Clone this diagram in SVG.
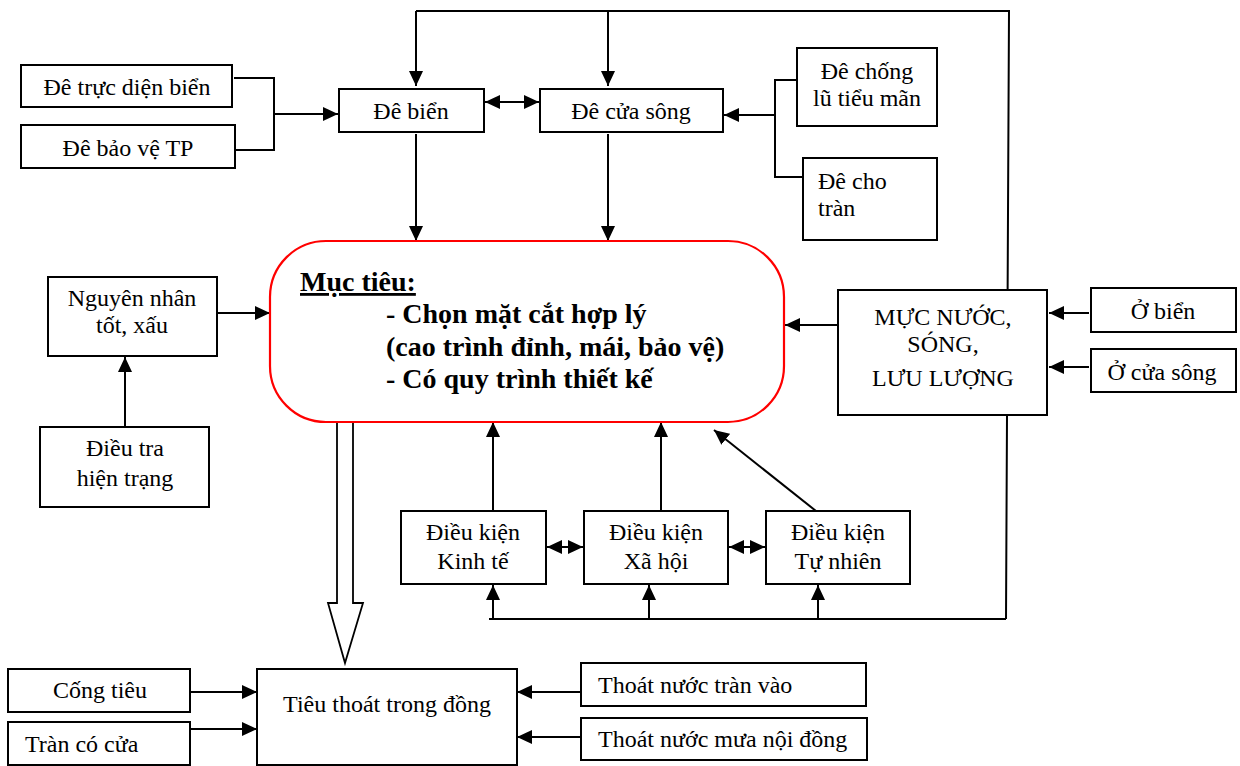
<svg xmlns="http://www.w3.org/2000/svg" width="1240" height="766" viewBox="0 0 1240 766">
<style>
.box{fill:#fff;stroke:#000;stroke-width:2}
.goal{fill:#fff;stroke:#ff0000;stroke-width:2.2}
.ln{fill:none;stroke:#000;stroke-width:2}
.arr{fill:none;stroke:#000;stroke-width:2;marker-end:url(#ah)}
.dbl{fill:none;stroke:#000;stroke-width:2;marker-end:url(#ah);marker-start:url(#ah)}
text{font-family:"Liberation Serif","Times New Roman",serif;font-size:24px;fill:#000}
.c{text-anchor:middle}
.b{font-weight:bold;font-size:28px}
</style>
<defs>
<marker id="ah" markerUnits="userSpaceOnUse" markerWidth="16" markerHeight="14" viewBox="0 0 16 14" refX="15" refY="7" orient="auto-start-reverse">
<path d="M0,0 L15,7 L0,14 z" fill="#000"/>
</marker>
</defs>
<rect width="1240" height="766" fill="#fff"/>
<g id="connectors">
<path class="ln" d="M1006,619 L1009,11 L416,11"/>
<path class="arr" d="M416,11 L416,86"/>
<path class="arr" d="M608,11 L608,86"/>
<path class="ln" d="M234,78 L274,78 L274,150 L236,150"/>
<path class="arr" d="M274,114 L338,114"/>
<path class="dbl" d="M485,102 L539,102"/>
<path class="ln" d="M797,80 L775,80 L775,177 L803,177"/>
<path class="arr" d="M775,115 L724,115"/>
<path class="arr" d="M416,134 L416,241"/>
<path class="arr" d="M608,134 L608,241"/>
<path class="arr" d="M217,313 L270,313"/>
<path class="arr" d="M125,427 L125,357"/>
<path class="arr" d="M838,325 L785,325"/>
<path class="arr" d="M1089,313 L1049,313"/>
<path class="arr" d="M1089,367 L1049,367"/>
<path class="arr" d="M493,511 L493,422"/>
<path class="arr" d="M661,511 L661,422"/>
<path class="arr" d="M816,511 L714,430"/>
<path class="dbl" d="M547,547 L583,547"/>
<path class="dbl" d="M729,547 L765,547"/>
<path class="ln" d="M489,619 L1006,619"/>
<path class="arr" d="M493,619 L493,585"/>
<path class="arr" d="M649,619 L649,585"/>
<path class="arr" d="M818,619 L818,585"/>
<path class="arr" d="M191,692 L257,692"/>
<path class="arr" d="M191,729 L257,729"/>
<path class="arr" d="M581,692 L517,692"/>
<path class="arr" d="M581,737 L517,737"/>
<polygon fill="#fff" stroke="#000" stroke-width="1.8" points="337,422 353,422 353,603 363,603 345,663 328,603 337,603"/>
</g>
<g id="n-de-truc-dien-bien"><rect class="box" x="21" y="65" width="211" height="42"/><text class="c" x="127" y="95">Đê trực diện biển</text></g>
<g id="n-de-bao-ve-tp"><rect class="box" x="21" y="125" width="214" height="43"/><text class="c" x="128" y="156">Đê bảo vệ TP</text></g>
<g id="n-de-bien"><rect class="box" x="339" y="89" width="145" height="43"/><text class="c" x="411" y="119">Đê biển</text></g>
<g id="n-de-cua-song"><rect class="box" x="540" y="89" width="183" height="43"/><text class="c" x="631" y="119">Đê cửa sông</text></g>
<g id="n-de-chong-lu"><rect class="box" x="797" y="48" width="140" height="78"/><text class="c" x="867" y="79">Đê chống</text><text class="c" x="867" y="106">lũ tiểu mãn</text></g>
<g id="n-de-cho-tran"><rect class="box" x="803" y="158" width="134" height="82"/><text x="818" y="189">Đê cho</text><text x="818" y="216">tràn</text></g>
<g id="n-muc-tieu"><rect class="goal" x="270" y="241" width="514" height="181" rx="56" ry="56"/>
<text class="b" x="300" y="291" text-decoration="underline">Mục tiêu:</text>
<text class="b" x="386" y="323">- Chọn mặt cắt hợp lý</text>
<text class="b" x="386" y="356">(cao trình đỉnh, mái, bảo vệ)</text>
<text class="b" x="386" y="388">- Có quy trình thiết kế</text></g>
<g id="n-nguyen-nhan"><rect class="box" x="48" y="277" width="169" height="79"/><text class="c" x="132" y="306">Nguyên nhân</text><text class="c" x="132" y="333">tốt, xấu</text></g>
<g id="n-dieu-tra"><rect class="box" x="40" y="427" width="169" height="80"/><text class="c" x="125" y="456">Điều tra</text><text class="c" x="125" y="486">hiện trạng</text></g>
<g id="n-muc-nuoc"><rect class="box" x="838" y="290" width="209" height="125"/><text class="c" x="943" y="325">MỰC NƯỚC,</text><text class="c" x="943" y="352">SÓNG,</text><text class="c" x="943" y="386">LƯU LƯỢNG</text></g>
<g id="n-o-bien"><rect class="box" x="1091" y="288" width="145" height="44"/><text class="c" x="1163" y="319">Ở biển</text></g>
<g id="n-o-cua-song"><rect class="box" x="1091" y="349" width="145" height="43"/><text class="c" x="1162" y="380">Ở cửa sông</text></g>
<g id="n-dk-kinh-te"><rect class="box" x="401" y="511" width="145" height="73"/><text class="c" x="473" y="540">Điều kiện</text><text class="c" x="473" y="569">Kinh tế</text></g>
<g id="n-dk-xa-hoi"><rect class="box" x="584" y="511" width="144" height="73"/><text class="c" x="656" y="540">Điều kiện</text><text class="c" x="656" y="569">Xã hội</text></g>
<g id="n-dk-tu-nhien"><rect class="box" x="766" y="511" width="144" height="73"/><text class="c" x="838" y="540">Điều kiện</text><text class="c" x="838" y="569">Tự nhiên</text></g>
<g id="n-cong-tieu"><rect class="box" x="8" y="669" width="182" height="43"/><text class="c" x="100" y="698">Cống tiêu</text></g>
<g id="n-tran-co-cua"><rect class="box" x="8" y="722" width="182" height="43"/><text x="25" y="752">Tràn có cửa</text></g>
<g id="n-tieu-thoat"><rect class="box" x="257" y="669" width="260" height="96"/><text class="c" x="387" y="712">Tiêu thoát trong đồng</text></g>
<g id="n-thoat-tran-vao"><rect class="box" x="581" y="663" width="285" height="43"/><text x="598" y="693">Thoát nước tràn vào</text></g>
<g id="n-thoat-mua"><rect class="box" x="581" y="718" width="286" height="42"/><text x="598" y="747">Thoát nước mưa nội đồng</text></g>
</svg>
